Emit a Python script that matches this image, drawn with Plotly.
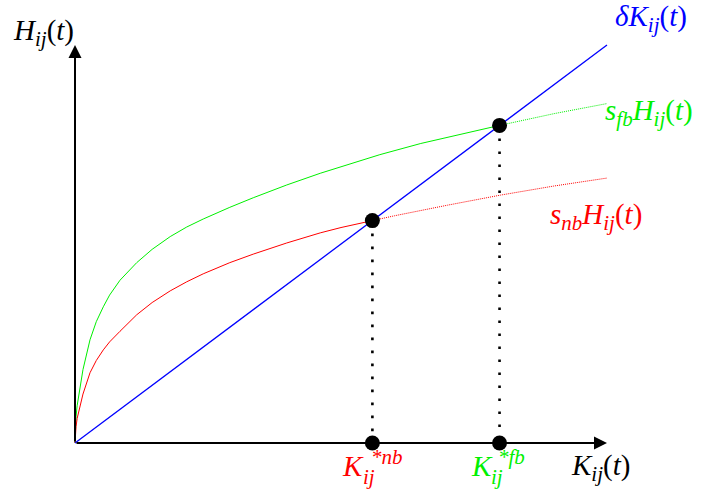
import plotly.graph_objects as go

# ---- data (K and H in the same units) ----
K_red_solid = [0, 0.005, 0.02, 0.04, 0.094, 0.15, 0.282, 0.4, 0.532, 0.65, 0.846, 1.0, 1.16,
               1.45, 1.79, 2.1, 2.41, 2.91, 3.35, 3.98, 4.61, 5.0, 5.59]
H_red_solid = [0, 0.16, 0.31, 0.46, 0.69, 0.92, 1.32, 1.55, 1.75, 1.90, 2.10, 2.26, 2.41,
               2.64, 2.86, 3.03, 3.18, 3.39, 3.55, 3.76, 3.95, 4.05, 4.18]
K_red_dot = [5.59, 6, 7, 8, 9, 10]
H_red_dot = [4.18, 4.27, 4.47, 4.66, 4.83, 4.98]

K_green_solid = [0, 0.005, 0.02, 0.04, 0.094, 0.15, 0.282, 0.4, 0.532, 0.65, 0.846, 1.0, 1.16,
                 1.45, 1.79, 2.1, 2.41, 2.91, 3.35, 3.98, 4.61, 5.73, 6.5, 7.98]
H_green_solid = [0, 0.25, 0.50, 0.70, 1.00, 1.38, 1.94, 2.28, 2.56, 2.78, 3.06, 3.23, 3.39,
                 3.64, 3.88, 4.06, 4.21, 4.43, 4.61, 4.85, 5.07, 5.42, 5.63, 5.97]
K_green_dot = [7.98, 9, 10]
H_green_dot = [5.97, 6.19, 6.38]

K_blue = [0, 10]
H_blue = [0, 7.48]

K_star = [5.59, 7.98]
H_star = [4.18, 5.97]
star_sups = ["*nb", "*fb"]

X_END = 10
Y_END = 7.48

SERIF = "Liberation Serif, DejaVu Serif, serif"
RED, GREEN, BLUE = "#ff0000", "#00f000", "#0000ff"
star_colors = [RED, GREEN]

# pixel scale of the drawing (origin at 75,443; 53.2 px per unit)
PX0, PY0, S = 75, 443, 53.2


def dx(px):
    return (px - PX0) / S


def dy(py):
    return (PY0 - py) / S


fig = go.Figure()

fig.add_trace(go.Scatter(x=K_green_solid, y=H_green_solid, mode="lines",
                         line=dict(color=GREEN, width=1)))
fig.add_trace(go.Scatter(x=K_green_dot, y=H_green_dot, mode="lines",
                         line=dict(color=GREEN, width=1, dash="1px,1px")))
fig.add_trace(go.Scatter(x=K_red_solid, y=H_red_solid, mode="lines",
                         line=dict(color=RED, width=1)))
fig.add_trace(go.Scatter(x=K_red_dot, y=H_red_dot, mode="lines",
                         line=dict(color=RED, width=1, dash="1px,1px")))
fig.add_trace(go.Scatter(x=K_blue, y=H_blue, mode="lines",
                         line=dict(color=BLUE, width=1.3)))

# vertical dotted drop lines
vx, vy = [], []
for k, h in zip(K_star, H_star):
    vx += [k, k, None]
    vy += [h, 0, None]
fig.add_trace(go.Scatter(x=vx, y=vy, mode="lines",
                         line=dict(color="black", width=2.6, dash="2.6px,10.4px")))

# axes with arrows
fig.add_annotation(x=X_END, y=0, ax=0, ay=0, xref="x", yref="y", axref="x", ayref="y",
                   showarrow=True, arrowhead=2, arrowsize=1.3, arrowwidth=2,
                   arrowcolor="black", text="")
fig.add_annotation(x=0, y=Y_END, ax=0, ay=0, xref="x", yref="y", axref="x", ayref="y",
                   showarrow=True, arrowhead=2, arrowsize=1.3, arrowwidth=2,
                   arrowcolor="black", text="")

# intersection dots
fig.add_trace(go.Scatter(x=K_star + K_star, y=H_star + [0, 0], mode="markers",
                         marker=dict(color="black", size=15)))


def sub(t):
    return "<sub><span style='font-size:21px'><i>" + t + "</i></span></sub>"


def label(px, py, text, color, size=29, xanchor="left"):
    fig.add_annotation(x=dx(px), y=dy(py), xref="x", yref="y", text=text, showarrow=False,
                       xanchor=xanchor, yanchor="middle",
                       font=dict(family=SERIF, size=size, color=color))


label(11, 32, "<i>H</i>" + sub("ij") + "(<i>t</i>)", "black")
label(613, 18, "<i>δK</i>" + sub("ij") + "(<i>t</i>)", BLUE)
label(603, 112, "<i>s</i>" + sub("fb") + "<i>H</i>" + sub("ij") + "(<i>t</i>)", GREEN)
label(548, 216, "<i>s</i>" + sub("nb") + "<i>H</i>" + sub("ij") + "(<i>t</i>)", RED)
label(569, 467, "<i>K</i>" + sub("ij") + "(<i>t</i>)", "black")

# stacked super/subscript labels under the axis
K_left = [340, 469]
sup_left = [369, 496]
sub_left = [361, 489]
for c, sup, kl, sl, bl in zip(star_colors, star_sups, K_left, sup_left, sub_left):
    label(kl, 466, "<i>K</i>", c, size=29)
    label(sl, 457, "<i>" + sup + "</i>", c, size=21)
    label(bl, 477, "<i>ij</i>", c, size=21)

fig.update_layout(
    width=716, height=496,
    margin=dict(l=0, r=0, t=0, b=0),
    paper_bgcolor="white", plot_bgcolor="white",
    showlegend=False,
    xaxis=dict(range=[dx(0), dx(716)], visible=False, fixedrange=True),
    yaxis=dict(range=[dy(496), dy(0)], visible=False, fixedrange=True),
)

fig.write_html("out.html", config={"displayModeBar": False},
               post_script="document.body.style.margin='0px';")
